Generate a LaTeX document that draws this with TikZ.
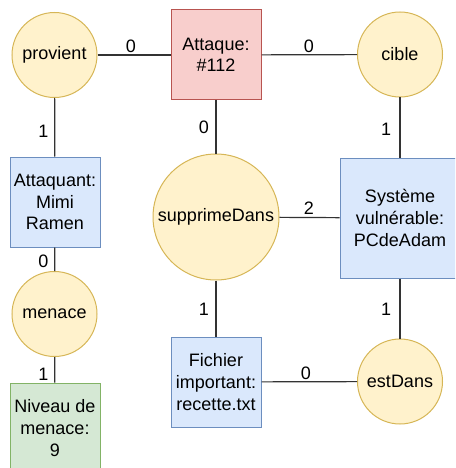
\documentclass[tikz,border=0pt]{standalone}
\usepackage{fontspec}
\setmainfont{Liberation Sans}
\definecolor{relfill}{HTML}{FFF2CC}
\definecolor{reldraw}{HTML}{D6B656}
\definecolor{redfill}{HTML}{F8CECC}
\definecolor{reddraw}{HTML}{B85450}
\definecolor{bluefill}{HTML}{DAE8FC}
\definecolor{bluedraw}{HTML}{6C8EBF}
\definecolor{greenfill}{HTML}{D5E8D4}
\definecolor{greendraw}{HTML}{82B366}
\definecolor{edgecol}{HTML}{333333}
\begin{document}
\begin{tikzpicture}[x=1pt,y=-1pt,
  every node/.style={font=\fontsize{18}{21.6}\selectfont, text=black},
  rel/.style={circle, fill=relfill, draw=reldraw, line width=1pt, inner sep=0pt, minimum size=#1},
  rel/.default=85,
  ent/.style={rectangle, draw, line width=1pt, inner sep=0pt, align=center,
    minimum width=90, minimum height=90},
  redent/.style={ent, fill=redfill, draw=reddraw},
  blueent/.style={ent, fill=bluefill, draw=bluedraw},
  greenent/.style={ent, fill=greenfill, draw=greendraw},
  link/.style={draw=edgecol, line width=1.2pt},
  card/.style={inner sep=0pt}
]
\useasboundingbox (0,0) rectangle (455,468);
\clip (0,0) rectangle (455,468);

% relations
\node[rel] (provient) at (54.5,55) {provient};
\node[rel] (cible) at (400,54.5) {cible};
\node[rel=126] (supprime) at (216,217) {supprimeDans};
\node[rel] (menace) at (54.5,314) {menace};
\node[rel] (estdans) at (400,381.5) {estDans};

% entities
\node[redent] (attaque) at (216,55) {Attaque:\\\#112};
\node[blueent] (attaquant) at (55,202) {Attaquant:\\Mimi\\Ramen};
\node[blueent, minimum width=120, minimum height=120] (systeme) at (400,218) {Système\\vulnérable:\\PCdeAdam};
\node[blueent] (fichier) at (216,382) {Fichier\\important:\\recette.txt};
\node[greenent] (niveau) at (55,428) {Niveau de\\menace:\\9};

% connectors
\draw[link] (provient) -- (attaque);
\draw[link] (attaque) -- (cible);
\draw[link] (attaque) -- (supprime);
\draw[link] (provient) -- (attaquant);
\draw[link] (cible) -- (systeme);
\draw[link] (attaquant) -- (menace);
\draw[link] (supprime) -- (systeme);
\draw[link] (supprime) -- (fichier);
\draw[link] (systeme) -- (estdans);
\draw[link] (menace) -- (niveau);
\draw[link] (fichier) -- (estdans);

% cardinalities
\node[card] (c1) at (131,46.5) {0};
\node[card] (c2) at (309,46.5) {0};
\node[card] (c3) at (204,127) {0};
\node[card] (c4) at (43.5,131) {1};
\node[card] (c5) at (386,129) {1};
\node[card] (c6) at (43.5,261) {0};
\node[card] (c7) at (309,208.5) {2};
\node[card] (c8) at (204,309) {1};
\node[card] (c9) at (386,309) {1};
\node[card] (c10) at (43.5,374) {1};
\node[card] (c11) at (306,373.5) {0};
\end{tikzpicture}
\end{document}
